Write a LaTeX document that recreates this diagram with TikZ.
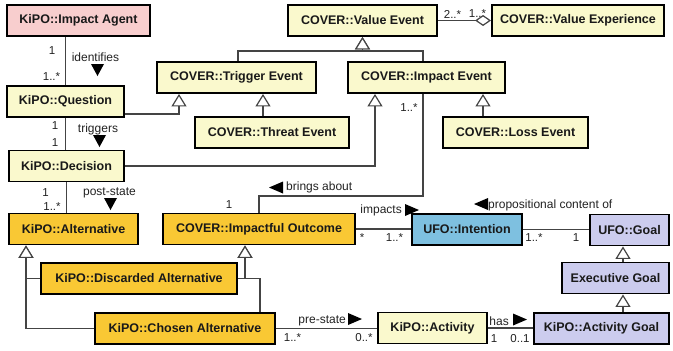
\documentclass[tikz,border=0pt]{standalone}
\usepackage{fontspec}
\setmainfont{Liberation Sans}
\usetikzlibrary{arrows.meta,calc}

\definecolor{cream}{RGB}{250,249,205}
\definecolor{gold}{RGB}{249,200,52}
\definecolor{pinkish}{RGB}{248,206,206}
\definecolor{skyblue}{RGB}{126,192,224}
\definecolor{lavender}{RGB}{204,204,238}
\definecolor{linegray}{RGB}{68,68,68}
\definecolor{inkgray}{RGB}{34,34,34}

\tikzset{
  box/.style={draw=black, line width=1.9pt, inner sep=0pt, minimum height=31pt,
    font=\bfseries\fontsize{12.5}{14}\selectfont, text=black!90},
  conn/.style={draw=linegray, line width=1.2pt},
  gen/.style={conn, -{Triangle[open, fill=white, length=12.5pt, width=15pt]}},
  agg/.style={conn, -{Diamond[open, fill=white, length=16pt, width=11pt]}},
  rel/.style={font=\fontsize{12}{14}\selectfont, text=inkgray, inner sep=0pt},
  mult/.style={font=\fontsize{11.5}{13}\selectfont, text=inkgray, inner sep=0pt},
  rdown/.pic={\fill[black] (-6.5,-6) -- (6.5,-6) -- (0,6) -- cycle;},
  rright/.pic={\fill[black] (-7,-6) -- (-7,6) -- (7,0) -- cycle;},
  rleft/.pic={\fill[black] (7,-6) -- (7,6) -- (-7,0) -- cycle;},
}

\begin{document}
\begin{tikzpicture}[x=1pt,y=-1pt]
\useasboundingbox (0,0) rectangle (673,351);

% classes
\node[box, fill=pinkish,  minimum width=143pt] (agent)       at (78.5,20.5)  {KiPO::Impact Agent};
\node[box, fill=cream,    minimum width=117pt] (question)    at (65.5,101.5) {KiPO::Question};
\node[box, fill=cream,    minimum width=159pt] (trigger)     at (236.5,77.5) {COVER::Trigger Event};
\node[box, fill=cream,    minimum width=149pt] (valueevent)  at (362.5,20.5) {COVER::Value Event};
\node[box, fill=cream,    minimum width=172pt] (valueexp)    at (578,20.5)   {COVER::Value Experience};
\node[box, fill=cream,    minimum width=157pt] (impactevent) at (426.5,77.5) {COVER::Impact Event};
\node[box, fill=cream,    minimum width=154pt] (threat)      at (272,132.5)  {COVER::Threat Event};
\node[box, fill=cream,    minimum width=145pt] (loss)        at (515.5,132.5){COVER::Loss Event};
\node[box, fill=cream,    minimum width=115pt] (decision)    at (66.5,166)   {KiPO::Decision};
\node[box, fill=gold,     minimum width=129pt] (alternative) at (73.5,229)   {KiPO::Alternative};
\node[box, fill=gold,     minimum width=192pt] (outcome)     at (259,229)    {COVER::Impactful Outcome};
\node[box, fill=skyblue,  minimum width=110pt] (intention)   at (467,229.5)  {UFO::Intention};
\node[box, fill=lavender, minimum width=79pt]  (goal)        at (629.5,230)  {UFO::Goal};
\node[box, fill=lavender, minimum width=107pt] (execgoal)    at (615.5,278)  {Executive Goal};
\node[box, fill=lavender, minimum width=135pt] (actgoal)     at (601.5,328.5){KiPO::Activity Goal};
\node[box, fill=cream,    minimum width=109pt] (activity)    at (432.5,328)  {KiPO::Activity};
\node[box, fill=gold,     minimum width=196pt] (discarded)   at (139,278.5)  {KiPO::Discarded Alternative};
\node[box, fill=gold,     minimum width=180pt] (chosen)      at (185,328.5)  {KiPO::Chosen Alternative};

% associations
\draw[conn] (question.north) -- (question.north |- agent.south);
\draw[conn] (question.south) -- (question.south |- decision.north);
\draw[conn] (decision.south) -- (decision.south |- alternative.north);
\draw[agg]  (valueevent.east) -- (valueevent.east -| valueexp.west);
\draw[conn] ([xshift=-3.5pt]impactevent.south) -- ++(0,102) -| (outcome.north);
\draw[conn] (outcome.east) -- (outcome.east -| intention.west);
\draw[conn] (intention.east) -- (intention.east -| goal.west);
\draw[conn] (chosen.east) -- (chosen.east -| activity.west);
\draw[conn] (activity.east) -- (activity.east -| actgoal.west);

% generalizations
\draw[gen] ([yshift=4pt]question.south east) -| ([xshift=-57.5pt]trigger.south);
\draw[gen] ([xshift=-9pt]threat.north) -- ([xshift=-9pt]threat.north |- trigger.south);
\draw[gen] ([xshift=1.5pt]trigger.north) -- ++(0,-10) -| (valueevent.south);
\draw[gen] ([xshift=-3.5pt]impactevent.north) -- ++(0,-10) -| (valueevent.south);
\draw[gen] ([xshift=-32.5pt]loss.north) -- ([xshift=-32.5pt]loss.north |- impactevent.south);
\draw[gen] (decision.east) -| ([xshift=-51.5pt]impactevent.south);
\draw[gen] (discarded.west) -| ([xshift=-47.5pt]alternative.south);
\draw[gen] (chosen.west) -| ([xshift=-47.5pt]alternative.south);
\draw[gen] (discarded.east) -| ([xshift=-14pt]outcome.south);
\draw[gen] ([xshift=75pt]chosen.north) -- ([xshift=75pt]chosen.north |- discarded.east) -| ([xshift=-14pt]outcome.south);
\draw[gen] ([xshift=7.5pt]execgoal.north) -- ([xshift=7.5pt]execgoal.north |- goal.south);
\draw[gen] ([xshift=21.5pt]actgoal.north) -- ([xshift=21.5pt]actgoal.north |- execgoal.south);

% association names with reading direction
\node[rel] (nIdent)   at (95.5,57)  {identifies};
\pic at (97.5,70) {rdown};
\node[rel] (nTrig)    at (98,129)   {triggers};
\pic at (99.5,141) {rdown};
\node[rel] (nPost)    at (109.5,193) {post-state};
\pic at (110.5,204) {rdown};
\node[rel, anchor=west] (nBrings) at (286,187.5) {brings about};
\pic at (276,187.5) {rleft};
\node[rel, anchor=east] (nImpacts) at (402,210) {impacts};
\pic at (412,210) {rright};
\node[rel, anchor=west] (nProp) at (488,205) {propositional content of};
\pic at (481,204) {rleft};
\node[rel, anchor=east] (nPre) at (346,321) {pre-state};
\pic at (355,319) {rright};
\node[rel, anchor=east] (nHas) at (509,321.5) {has};
\pic at (520,319.5) {rright};

% multiplicities
\node[mult] (m1)  at (52,51)     {1};
\node[mult] (m2)  at (51.5,77)   {1..*};
\node[mult] (m3)  at (55,126)    {1};
\node[mult] (m4)  at (55,143)    {1};
\node[mult] (m5)  at (45.5,193)  {1};
\node[mult] (m6)  at (52,206.5)  {1..*};
\node[mult] (m7)  at (452.5,14)  {2..*};
\node[mult] (m8)  at (477.5,14)  {1..*};
\node[mult] (m9)  at (409,108)   {1..*};
\node[mult] (m10) at (229,205)   {1};
\node[mult] (m11) at (362,238)   {*};
\node[mult] (m12) at (394.5,238) {1..*};
\node[mult] (m13) at (534,238)   {1..*};
\node[mult] (m14) at (576,238)   {1};
\node[mult] (m15) at (292.5,338) {1..*};
\node[mult] (m16) at (364,338)   {0..*};
\node[mult] (m17) at (494,339)   {1};
\node[mult] (m18) at (520,339)   {0..1};
\end{tikzpicture}
\end{document}
